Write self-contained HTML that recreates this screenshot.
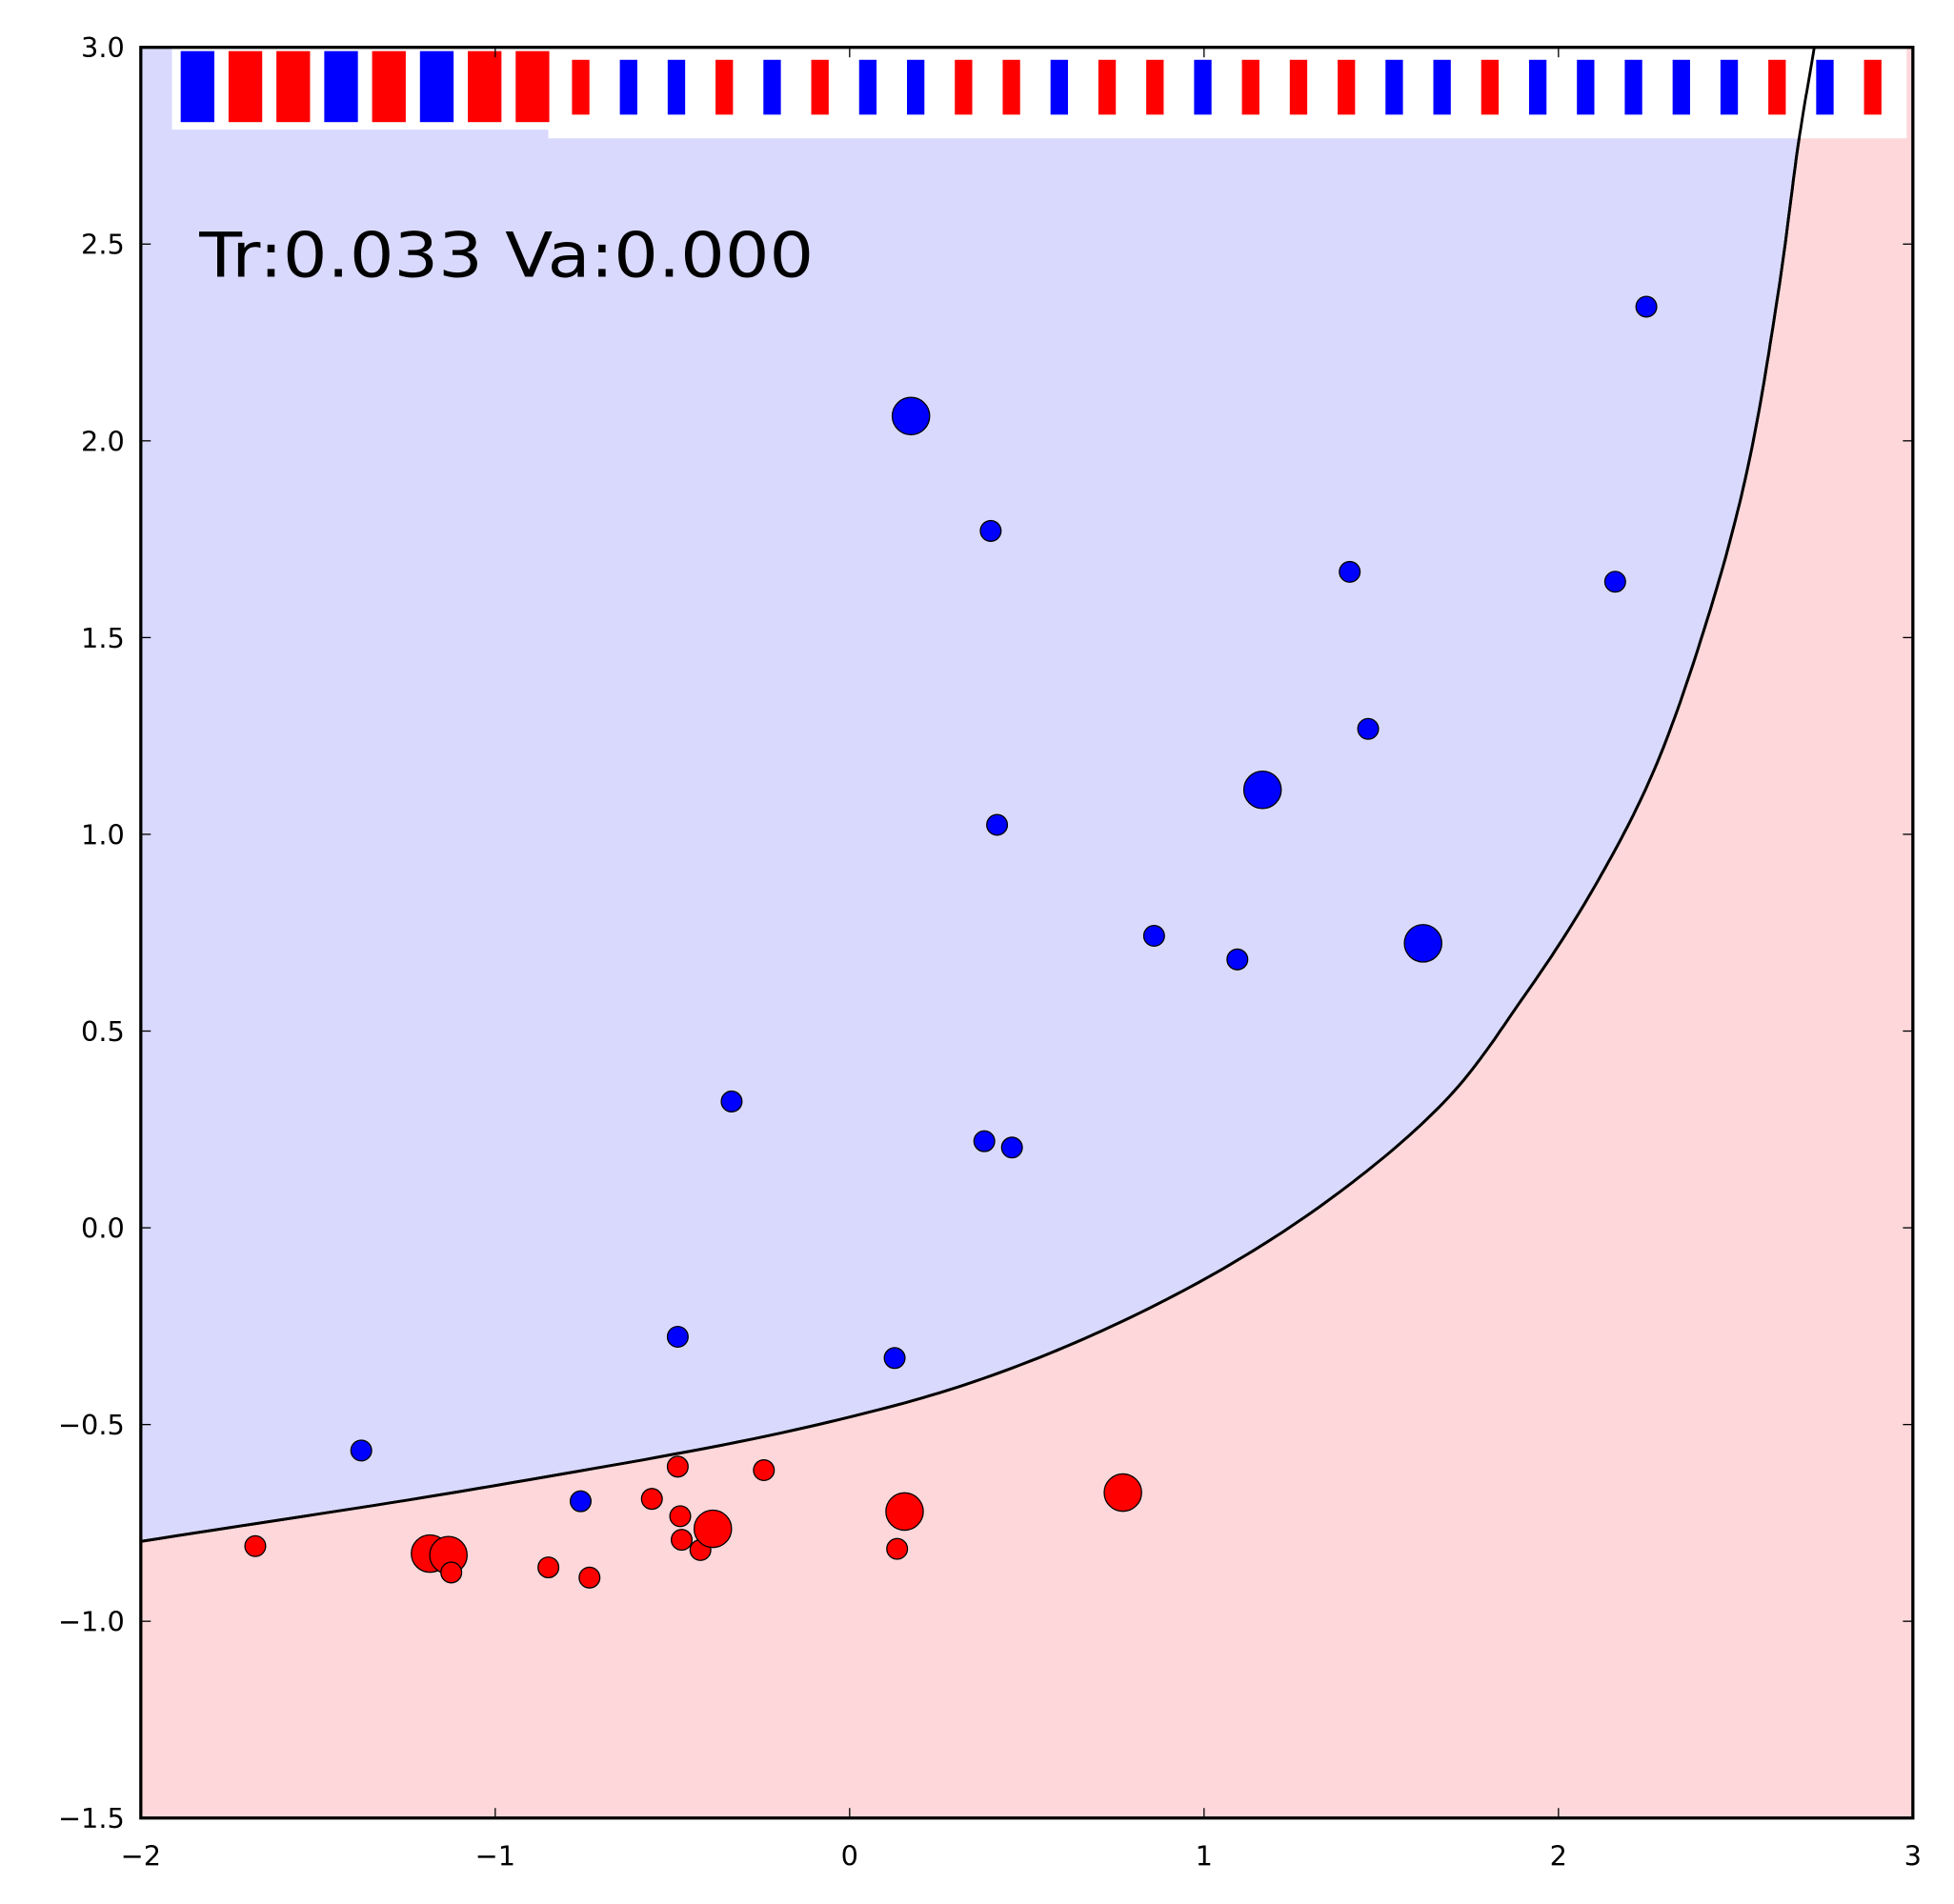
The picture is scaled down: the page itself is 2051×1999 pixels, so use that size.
<!DOCTYPE html>
<html><head><meta charset="utf-8"><style>html,body{margin:0;padding:0;background:#fff}svg{display:block}</style></head>
<body>
<svg id="chart" width="2051" height="1999" viewBox="0 0 1568 1528" preserveAspectRatio="none" xmlns="http://www.w3.org/2000/svg" font-family="'DejaVu Sans', 'Liberation Sans', sans-serif">
<defs><clipPath id="pc"><rect x="113" y="38" width="1422" height="1421"/></clipPath></defs>
<g id="plot" clip-path="url(#pc)"></g>
<g id="axes"></g>
</svg>
<script>
const blueX=[0.173,0.398,1.411,2.160,2.248,1.463,1.165,0.416,0.859,1.094,1.618,-0.333,0.380,0.458,-0.485,0.127,-1.378,-0.759];
const blueY=[2.063,1.771,1.667,1.642,2.341,1.268,1.113,1.024,0.742,0.682,0.723,0.321,0.220,0.204,-0.277,-0.331,-0.566,-0.695];
const blueBig=[1,0,0,0,0,0,1,0,0,0,1,0,0,0,0,0,0,0];
const redX=[-1.677,-1.184,-1.132,-1.124,-0.850,-0.734,-0.558,-0.485,-0.478,-0.474,-0.421,-0.386,-0.242,0.134,0.155,0.771];
const redY=[-0.809,-0.828,-0.832,-0.876,-0.863,-0.889,-0.689,-0.607,-0.733,-0.793,-0.819,-0.765,-0.616,-0.816,-0.721,-0.673];
const redBig=[0,1,1,0,0,0,0,0,0,0,0,1,0,0,1,1];
const curveX=[-2,-1,-0.1125,0.402,0.916,1.345,1.688,1.895,2.083,2.262,2.415,2.531,2.621,2.679,2.722];
const curveY=[-0.797,-0.655,-0.505,-0.375,-0.172,0.066,0.330,0.578,0.838,1.147,1.532,1.919,2.382,2.768,3.0];
const bigBars=['b','r','r','b','r','b','r','r'];
const smallBars=['r','b','b','r','b','r','b','b','r','r','b','r','r','b','r','r','r','b','b','r','b','b','b','b','b','r','b','r'];
const xTicks=[-2,-1,0,1,2,3];
const xTickLabels=['\u22122','\u22121','0','1','2','3'];
const yTicks=[-1.5,-1,-0.5,0,0.5,1,1.5,2,2.5,3];
const yTickLabels=['\u22121.5','\u22121.0','\u22120.5','0.0','0.5','1.0','1.5','2.0','2.5','3.0'];
const scoreText='Tr:0.033 Va:0.000';

const L=113,R=1535,T=38,B=1459;
const sx=v=>L+(v+2)/5*(R-L);
const sy=v=>T+(3-v)/4.5*(B-T);
const NS='http://www.w3.org/2000/svg';
function mk(tag,attrs,parent){const e=document.createElementNS(NS,tag);for(const k in attrs)e.setAttribute(k,attrs[k]);parent.appendChild(e);return e;}
const plot=document.getElementById('plot'),axes=document.getElementById('axes');

// centripetal catmull-rom
const P=curveX.map((x,i)=>[sx(x),sy(curveY[i])]);
const ext=[[2*P[0][0]-P[1][0],2*P[0][1]-P[1][1]],...P,[2*P[P.length-1][0]-P[P.length-2][0],2*P[P.length-1][1]-P[P.length-2][1]]];
let pts=[];
function d(a,b){return Math.pow(Math.hypot(b[0]-a[0],b[1]-a[1]),0.5)||1e-4;}
for(let i=1;i<ext.length-2;i++){
  const p0=ext[i-1],p1=ext[i],p2=ext[i+1],p3=ext[i+2];
  const t0=0,t1=t0+d(p0,p1),t2=t1+d(p1,p2),t3=t2+d(p2,p3);
  for(let s=0;s<20;s++){const t=t1+(t2-t1)*s/20;
    const lerp=(a,b,ta,tb)=>[0,1].map(k=>((tb-t)*a[k]+(t-ta)*b[k])/(tb-ta));
    const A1=lerp(p0,p1,t0,t1),A2=lerp(p1,p2,t1,t2),A3=lerp(p2,p3,t2,t3);
    const B1=lerp(A1,A2,t0,t2),B2=lerp(A2,A3,t1,t3);
    pts.push(lerp(B1,B2,t1,t2));}
}
pts.push(P[P.length-1]);
const line=pts.map(p=>p[0].toFixed(1)+','+p[1].toFixed(1)).join(' L');
let e=mk('rect',{x:L,y:T,width:R-L,height:B-T,fill:'#fdd7d9'},plot);


e=mk('path',{d:'M'+(L-5)+','+pts[0][1].toFixed(1)+' L'+line+' L'+(pts[pts.length-1][0]+5)+','+(T-5)+' L'+(L-5)+','+(T-5)+' Z',fill:'#d9d9fe'},plot);


e=mk('path',{d:'M'+line,fill:'none',stroke:'#000','stroke-width':2.2},plot);



// bars strip
e=mk('rect',{x:138,y:38,width:302,height:66,fill:'#fff'},plot);


e=mk('rect',{x:440,y:38,width:1090,height:73,fill:'#fff'},plot);


bigBars.forEach((c,i)=>{const b=mk('rect',{x:145+i*38.4,y:41,width:27,height:57,fill:c==='b'?'#0000ff':'#ff0000'},plot);

});
smallBars.forEach((c,i)=>{const b=mk('rect',{x:459+i*38.4,y:48,width:14,height:44,fill:c==='b'?'#0000ff':'#ff0000'},plot);

});

// boundary crosses the strip on top of it (as in reference)
e=mk('path',{d:'M'+line,fill:'none',stroke:'#000','stroke-width':2.2},plot);



// points
function pts2(X,Y,Big,col,name){X.forEach((x,i)=>{const c=mk('circle',{cx:sx(x),cy:sy(Y[i]),r:Big[i]?15:8.3,fill:col,stroke:'#000','stroke-width':1},plot);

});}
pts2(blueX,blueY,blueBig,'#0000ff','blue-point');
pts2(redX,redY,redBig,'#ff0000','red-point');

e=mk('text',{x:160,y:222,'font-size':50,fill:'#000',textLength:493,lengthAdjust:'spacingAndGlyphs'},plot);e.textContent=scoreText;



// frame & ticks
e=mk('rect',{x:L,y:T,width:R-L,height:B-T,fill:'none',stroke:'#000','stroke-width':2.5},axes);


xTicks.forEach((v,i)=>{const x=sx(v);
  mk('line',{x1:x,y1:B,x2:x,y2:B-8,stroke:'#000','stroke-width':1},axes);
  mk('line',{x1:x,y1:T,x2:x,y2:T+8,stroke:'#000','stroke-width':1},axes);
  const t=mk('text',{x:x,y:1497,'font-size':22,'text-anchor':'middle'},axes);t.textContent=xTickLabels[i];
  
  });
yTicks.forEach((v,i)=>{const y=sy(v);
  mk('line',{x1:L,y1:y,x2:L+8,y2:y,stroke:'#000','stroke-width':1},axes);
  mk('line',{x1:R,y1:y,x2:R-8,y2:y,stroke:'#000','stroke-width':1},axes);
  const t=mk('text',{x:100,y:y+8,'font-size':22,'text-anchor':'end'},axes);t.textContent=yTickLabels[i];
  
  });
</script>
</body></html>
